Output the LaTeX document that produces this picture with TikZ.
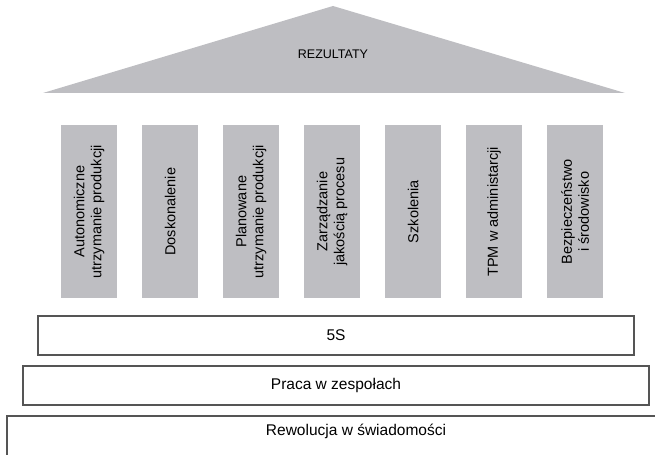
\documentclass[tikz,border=0pt]{standalone}
\usepackage{fontspec}
\setmainfont{Liberation Sans}
\definecolor{pillargray}{RGB}{190,190,194}
\definecolor{edgegray}{RGB}{85,85,85}
\begin{document}
\begin{tikzpicture}[x=1bp,y=-1bp,
  pillar/.style={fill=pillargray,draw=none,minimum width=56bp,minimum height=173bp,inner sep=0pt,anchor=north west},
  pillartext/.style={rotate=90,align=center,font=\fontsize{14.5bp}{17bp}\selectfont,inner sep=0pt},
  basebox/.style={draw=edgegray,line width=1.4bp,fill=white},
  basetext/.style={font=\fontsize{15.5bp}{18bp}\selectfont,inner sep=0pt}]
\useasboundingbox (0,0) rectangle (655,455);
% roof
\fill[pillargray] (43,93) coordinate (rl) -- (333,6) coordinate (ra) -- (625,93) coordinate (rr) -- cycle;
\node[font=\fontsize{12.5bp}{15bp}\selectfont,inner sep=0pt] (roof) at (333,54) {REZULTATY};
% pillars
\foreach \i/\x/\t in {1/61/{Autonomiczne\\utrzymanie produkcji},
                      2/142/{Doskonalenie},
                      3/223/{Planowane\\utrzymanie produkcji},
                      4/304/{Zarządzanie\\jakością procesu},
                      5/385/{Szkolenia},
                      6/466/{TPM w administarcji},
                      7/547/{Bezpieczeństwo\\i środowisko}}{
  \node[pillar] (p\i) at (\x,125) {};
  \node[pillartext] (pt\i) at (p\i.center) {\t};
}
% base layers
\begin{scope}
\clip (0,0) rectangle (655,455);
\draw[basebox] (7,416) rectangle (720,470);
\end{scope}
\node[basetext] (l3) at (356,431) {Rewolucja w świadomości};
\draw[basebox] (23,366) rectangle (649,405);
\node[basetext] (l2) at (336,385.5) {Praca w zespołach};
\draw[basebox] (38,316) rectangle (634,355);
\node[basetext] (l1) at (336,335.5) {5S};
\end{tikzpicture}
\end{document}
